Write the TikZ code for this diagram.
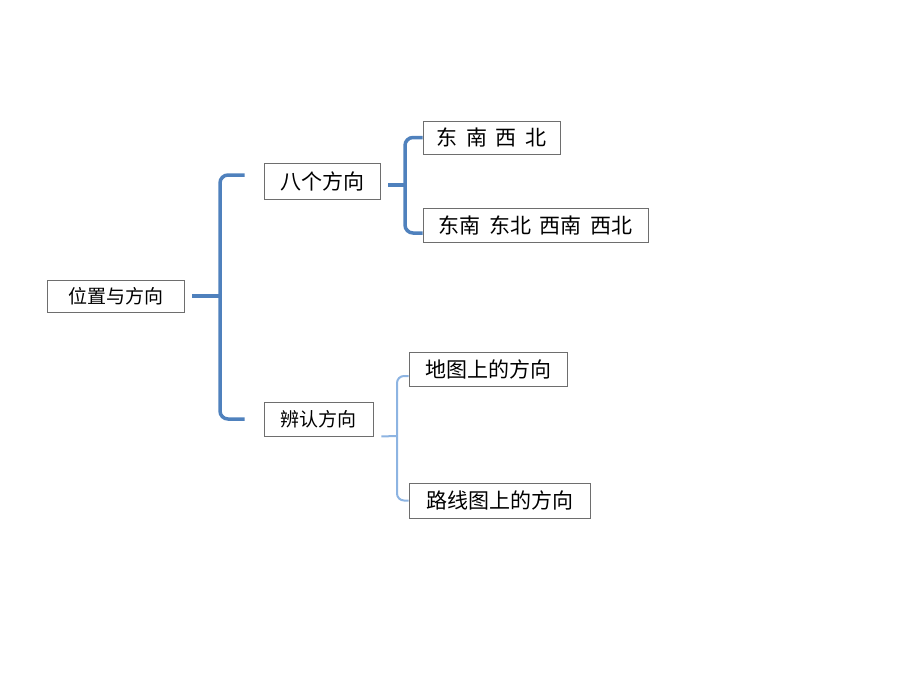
\documentclass[tikz,border=0pt]{standalone}
\usepackage{fontspec}
\setmainfont{Noto Sans CJK SC}
\definecolor{braceblue}{RGB}{79,129,189}
\definecolor{bracelight}{RGB}{141,180,226}
\definecolor{boxgray}{RGB}{110,110,110}
\tikzset{
	box/.style={draw=boxgray, line width=0.9pt, inner sep=0pt},
	bigtext/.style={font=\fontsize{21}{24}\selectfont},
	smalltext/.style={font=\fontsize{19}{22}\selectfont},
	brace/.style={draw=braceblue, line width=3.5pt, rounded corners=8pt},
	thinbrace/.style={draw=bracelight, line width=2pt, rounded corners=7pt}
}
\begin{document}
\begin{tikzpicture}[x=1pt, y=-1pt]
		\useasboundingbox (0,0) rectangle (920,690);
		\node [box, smalltext, minimum width=137pt, minimum height=32pt](Pos)at (115.5,296) {位置与方向};
		\node [box, bigtext, minimum width=116pt, minimum height=36pt](Eight)at (322,181) {八个方向};
		\node [box, smalltext, minimum width=109pt, minimum height=34pt](Read)at (318.5,419) {辨认方向};
		\node [box, bigtext, minimum width=137pt, minimum height=33pt](Four)at (491.5,137.5) {东\hspace{0.4em}南\hspace{0.4em}西\hspace{0.4em}北};
		\node [box, bigtext, minimum width=225pt, minimum height=34pt](Diag)at (535.5,225) {东南\hspace{0.4em}东北\hspace{0.4em}西南\hspace{0.4em}西北};
		\node [box, bigtext, minimum width=158pt, minimum height=34pt](Map)at (488,369) {地图上的方向};
		\node [box, bigtext, minimum width=181pt, minimum height=35pt](Route)at (499.5,500.5) {路线图上的方向};

		\coordinate (braceA) at (220,296);
		\coordinate (braceB) at (405,185);
		\coordinate (braceC) at (397,436);

		\draw [brace]([xshift=8pt]Pos.east)--(braceA);
		\draw [brace]([xshift=-19pt,yshift=6pt]Eight.west) -| (braceA) |- ([xshift=-19pt]Read.west);

		\draw [brace]([xshift=8pt,yshift=-4pt]Eight.east)--(braceB);
		\draw [brace](Four.west) -| (braceB) |- ([yshift=-8pt]Diag.west);

		\draw [thinbrace]([xshift=8pt]Read.south east)--(braceC);
		\draw [thinbrace]([yshift=-7pt]Map.west) -| (braceC) |- (Route.west);
	\end{tikzpicture}
\end{document}
